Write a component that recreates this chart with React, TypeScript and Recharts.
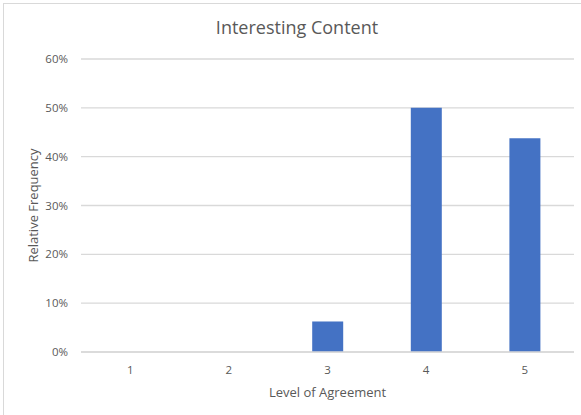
import { BarChart, Bar, XAxis, YAxis, CartesianGrid } from "recharts";

const levels = ["1", "2", "3", "4", "5"];
const frequencies = [0, 0, 0.0625, 0.5, 0.4375];
const yTicks = [0, 0.1, 0.2, 0.3, 0.4, 0.5, 0.6];

const data = levels.map((level, i) => ({ level, freq: frequencies[i] }));

const textColor = "#595959";
const gridColor = "#d9d9d9";
const font = "'Open Sans', 'Liberation Sans', sans-serif";

export default function App() {
    return (
        <div
            style={{
                position: "absolute",
                left: 0,
                top: 0,
                width: 581,
                height: 415,
                overflow: "hidden",
                background: "#fff",
                fontFamily: font,
            }}
        >
            {/* chart frame, its right and bottom edges run off the page */}
            <div
                style={{
                    position: "absolute",
                    left: 3,
                    top: 3,
                    width: 600,
                    height: 430,
                    borderLeft: `1.5px solid ${gridColor}`,
                    borderTop: `1.5px solid ${gridColor}`,
                }}
            />
            <div
                style={{
                    position: "absolute",
                    left: 0,
                    top: 15,
                    width: 594,
                    textAlign: "center",
                    fontSize: 18,
                    color: textColor,
                }}
            >
                Interesting Content
            </div>
            <div style={{ position: "absolute", left: 0, top: 0 }}>
                <BarChart
                    width={581}
                    height={415}
                    data={data}
                    margin={{ top: 59, right: 7, bottom: 0, left: 0 }}
                >
                    <CartesianGrid
                        vertical={false}
                        stroke={gridColor}
                        strokeWidth={1.3}
                    />
                    <XAxis
                        dataKey="level"
                        height={63}
                        tickLine={false}
                        tickSize={0}
                        tickMargin={14}
                        axisLine={{ stroke: gridColor, strokeWidth: 1.3 }}
                        tick={{ fill: textColor, fontSize: 11.5, fontFamily: font }}
                        label={{
                            value: "Level of Agreement",
                            position: "insideBottom",
                            offset: 18,
                            fill: textColor,
                            fontSize: 13,
                            fontFamily: font,
                        }}
                    />
                    <YAxis
                        width={81}
                        domain={[0, 0.6]}
                        ticks={yTicks}
                        tickFormatter={(v: number) => `${Math.round(v * 100)}%`}
                        axisLine={false}
                        tickLine={false}
                        tickSize={0}
                        tickMargin={13}
                        tick={{ fill: textColor, fontSize: 11.5, fontFamily: font }}
                        label={{
                            value: "Relative Frequency",
                            angle: -90,
                            position: "insideLeft",
                            offset: 0,
                            dx: 33,
                            fill: textColor,
                            fontSize: 13,
                            fontFamily: font,
                            style: { textAnchor: "middle" },
                        }}
                    />
                    <Bar
                        dataKey="freq"
                        fill="#4472c4"
                        barSize={31}
                        isAnimationActive={false}
                    />
                </BarChart>
            </div>
        </div>
    );
}
